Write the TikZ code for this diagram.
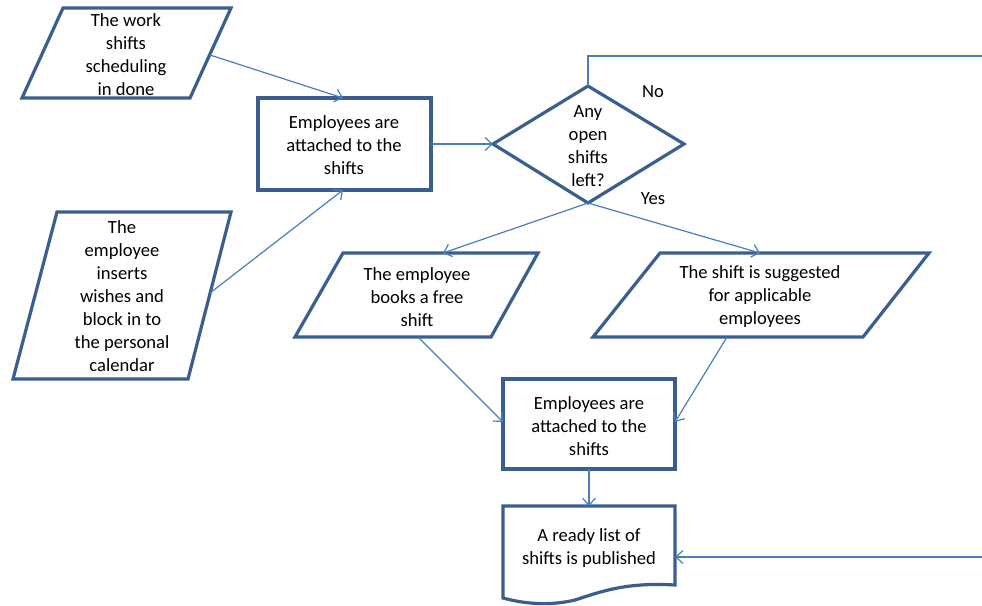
\documentclass[tikz,border=0pt]{standalone}
\usepackage{fontspec}
\setmainfont{Carlito}
\usetikzlibrary{arrows.meta}
\definecolor{shapeblue}{HTML}{3A5F8F}
\definecolor{linkblue}{HTML}{4A7EBB}
\tikzset{
  shapeline/.style={draw=shapeblue, line width=3.2pt, line join=miter, fill=white},
  label/.style={align=center, inner sep=0pt, font=\fontsize{18.6}{23}\selectfont},
  link/.style={draw=linkblue, line width=1.2pt, -{Straight Barb[length=7pt,width=13pt,line width=1.2pt]}},
}
\begin{document}
\begin{tikzpicture}[x=1pt,y=-1pt]
\useasboundingbox (0,0) rectangle (982,605);
\clip (0,0) rectangle (982,605);

% shapes
\draw[shapeline] (63,8) -- (231,8) -- (190,98) -- (22,98) -- cycle;
\draw[shapeline] (258,98) rectangle (431,190);
\draw[shapeline] (57,212) -- (231,212) -- (188,379) -- (13,379) -- cycle;
\draw[shapeline] (493,144) -- (588,86) -- (684,144) -- (588,203) -- cycle;
\draw[shapeline] (343,253) -- (538,253) -- (491,337) -- (295,337) -- cycle;
\draw[shapeline] (660,253) -- (929,253) -- (863,337) -- (593,337) -- cycle;
\draw[shapeline] (503,379) rectangle (675,469);
\draw[shapeline] (503,506) -- (675,506) -- (675,585)
  .. controls (625,582) and (600,592) .. (575,600)
  .. controls (550,606) and (525,604) .. (503,598) -- cycle;

% texts
\node[label] (t1) at (126,55) {The work\\shifts\\scheduling\\in done};
\node[label] (t2) at (344,145) {Employees are\\attached to the\\shifts};
\node[label] (t3) at (122,296) {The\\employee\\inserts\\wishes and\\block in to\\the personal\\calendar};
\node[label] (t4) at (588,146) {Any\\open\\shifts\\left?};
\node[label] (t5) at (417,297) {The employee\\books a free\\shift};
\node[label] (t6) at (760,297) {The shift is suggested\\for applicable\\employees};
\node[label] (t7) at (589,426) {Employees are\\attached to the\\shifts};
\node[label] (t8) at (589,548) {A ready list of\\shifts is published};
\node[label] (no) at (653,92) {No};
\node[label] (yes) at (653,199) {Yes};

% connector end points
\coordinate (p1r) at (210,55);
\coordinate (b1n) at (343,98);
\coordinate (b1s) at (343,190);
\coordinate (b1e) at (431,144);
\coordinate (p2r) at (210,293);
\coordinate (dw) at (493,144);
\coordinate (dn) at (588,86);
\coordinate (ds) at (588,203);
\coordinate (p3n) at (443,253);
\coordinate (p4n) at (760,253);
\coordinate (p3s) at (418,337);
\coordinate (p4s) at (727,337);
\coordinate (b2w) at (503,422);
\coordinate (b2e) at (675,422);
\coordinate (b2s) at (589,469);
\coordinate (docn) at (589,506);
\coordinate (doce) at (675,557);
\coordinate (loopa) at (588,56);
\coordinate (loopb) at (1000,56);
\coordinate (loopc) at (1000,557);

% connectors
\draw[link] (p1r) -- (b1n);
\draw[link] (p2r) -- (b1s);
\draw[link] (b1e) -- (dw);
\draw[link] (ds) -- (p3n);
\draw[link] (ds) -- (p4n);
\draw[link] (p3s) -- (b2w);
\draw[link] (p4s) -- (b2e);
\draw[link] (b2s) -- (docn);
\draw[link] (dn) -- (loopa) -- (loopb) -- (loopc) -- (doce);
\end{tikzpicture}
\end{document}
